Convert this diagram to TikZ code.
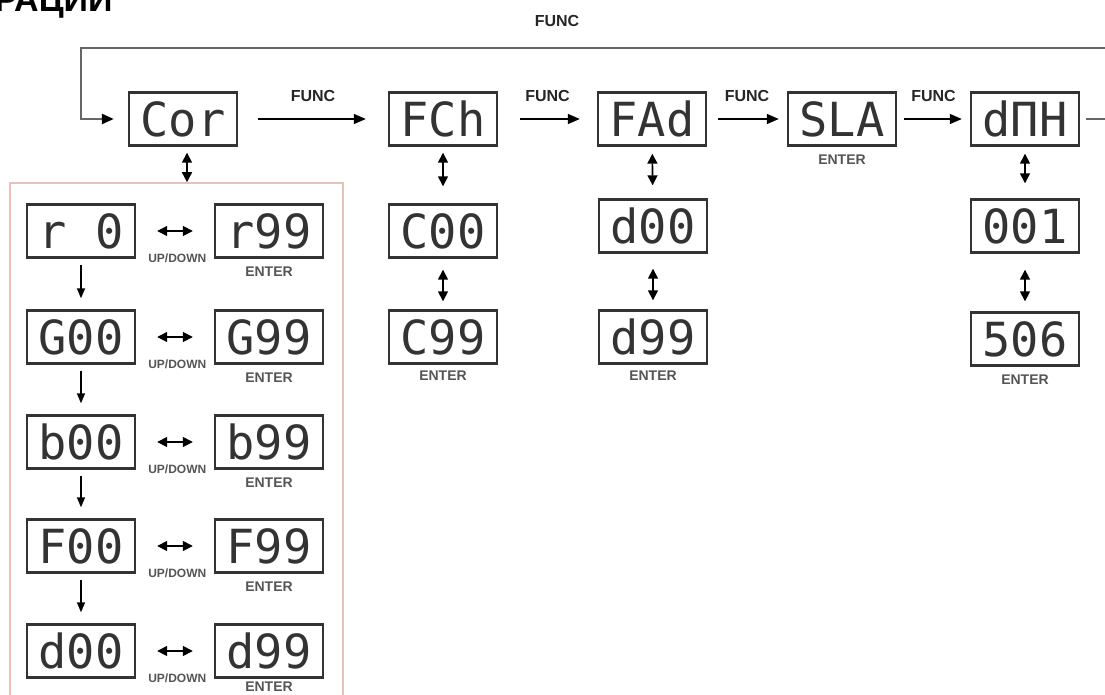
\documentclass[tikz,border=0pt]{standalone}
\usepackage{fontspec}
\usepackage{tikz}
\usetikzlibrary{positioning, arrows.meta}
\usepackage{xcolor}
\setmainfont{Liberation Sans}
\newfontfamily\segfont{DejaVu Sans Mono}
\definecolor{panelpink}{RGB}{236,192,184}
\definecolor{keygray}{RGB}{85,85,85}

\begin{document}
\begin{tikzpicture}[x=1pt, y=-1pt,
    disp/.style={draw=black!80, text=black!80, line width=2.4pt, minimum width=108pt, minimum height=53pt, inner sep=0pt, font=\segfont\fontsize{47}{47}\selectfont},
    func/.style={font=\bfseries\fontsize{16}{16}\selectfont, text=black!85},
    enter/.style={font=\bfseries\fontsize{14}{14}\selectfont, text=keygray},
    updn/.style={font=\bfseries\fontsize{12}{12}\selectfont, text=keygray},
    ttl/.style={font=\bfseries\fontsize{34}{34}\selectfont},
    panel/.style={draw=panelpink, line width=1.6pt, minimum width=333pt, minimum height=524pt},
    fwd/.style={-{Triangle[length=12pt, width=10pt]}, line width=1.6pt},
    nextrow/.style={-{Triangle[length=10pt, width=8pt]}, line width=1.4pt, shorten <=6pt, shorten >=11pt},
    bothway/.style={{Triangle[length=10pt, width=10pt]}-{Triangle[length=10pt, width=10pt]}, line width=1.6pt},
    loopline/.style={draw=black!60, line width=2.4pt, -{Triangle[length=12pt, width=10pt, color=black]}}]

        \useasboundingbox (0,0) rectangle (1105,695);

        % Title (cut off by the page edge)
        \node[ttl, anchor=base east] (ttl) at (116,12) {РАЦИИ};

        % Main menu row
        \node[disp] (Cor) at (183,119) {Cor};
        \node[disp] (FCh) at (443,119) {FCh};
        \node[disp] (FAd) at (652,119) {FAd};
        \node[disp] (SLA) at (842,119) {SLA};
        \node[disp] (dMH) at (1025,119) {dΠH};
        \node[enter, below=5pt of SLA] (eSLA) {ENTER};

        % Channel and fade columns
        \node[disp] (C00) at (443,231) {C00};
        \node[disp] (C99) at (443,337) {C99};
        \node[enter, below=3pt of C99] (eC99) {ENTER};
        \node[disp] (Fd00) at (653,226) {d00};
        \node[disp] (Fd99) at (653,337) {d99};
        \node[enter, below=3pt of Fd99] (eFd99) {ENTER};

        % Address column
        \node[disp] (a001) at (1025,226) {001};
        \node[disp] (a506) at (1025,339) {506};
        \node[enter, below=5pt of a506] (ea506) {ENTER};

        % Colour panel
        \node[panel] (grp) at (176.5,445) {};
        \node[disp] (r00) at (81,231) {r 0};
        \node[disp] (r99) at (269,231) {r99};
        \node[disp] (G00) at (81,337) {G00};
        \node[disp] (G99) at (269,337) {G99};
        \node[disp] (b00) at (81,442) {b00};
        \node[disp] (b99) at (269,442) {b99};
        \node[disp] (F00) at (81,546) {F00};
        \node[disp] (F99) at (269,546) {F99};
        \node[disp] (d00) at (81,651) {d00};
        \node[disp] (d99) at (269,651) {d99};

        \foreach \c in {r,G,b,F}
            \node[enter, below=5pt of \c99] (e\c) {ENTER};
        \node[enter, below=0pt of d99] (ed) {ENTER};
        \foreach \c in {r,G,b,F,d} {
            \node[updn, left=4pt of \c99.south west] (u\c) {UP/DOWN};
            \draw[bothway, shorten <=21pt, shorten >=21pt] (\c00) -- (\c99);
        }

        % Draw Row Arrows
        \draw[nextrow] (r00) -- (G00);
        \draw[nextrow] (G00) -- (b00);
        \draw[nextrow] (b00) -- (F00);
        \draw[nextrow] (F00) -- (d00);

        % Draw FUNC Arrows
        \draw[fwd, shorten <=20pt, shorten >=22pt] (Cor) -- node[func, above=13pt] (f1) {FUNC} (FCh);
        \draw[fwd, shorten <=22pt, shorten >=17pt] (FCh) -- node[func, above=13pt] (f2) {FUNC} (FAd);
        \draw[fwd, shorten <=11pt, shorten >=8pt] (FAd) -- node[func, above=13pt] (f3) {FUNC} (SLA);
        \draw[fwd, shorten <=7pt, shorten >=8pt] (SLA) -- node[func, above=13pt] (f4) {FUNC} (dMH);

        % Draw Up/Down Arrows
        \draw[bothway, shorten <=6pt] ([xshift=4pt]Cor.south) -- ([xshift=4pt]Cor.south |- grp.north);
        \draw[bothway, shorten <=6pt, shorten >=17pt] (FCh) -- (C00);
        \draw[bothway, shorten <=11pt, shorten >=8pt] (C00) -- (C99);
        \draw[bothway, shorten <=7pt, shorten >=13pt] (FAd) -- (Fd00);
        \draw[bothway, shorten <=15pt, shorten >=9pt] (Fd00) -- (Fd99);
        \draw[bothway, shorten <=7pt, shorten >=15pt] (dMH) -- (a001);
        \draw[bothway, shorten <=16pt, shorten >=10pt] (a001) -- (a506);

        % Return loop
        \coordinate (exitR) at (1120,119);
        \coordinate (topR) at (1120,48);
        \coordinate (topL) at (81,48);
        \draw[loopline, shorten <=6pt, shorten >=14pt] (dMH) -- (exitR) -- (topR) -- (topL) |- (Cor);
        \node[func] (ftop) at (557,21) {FUNC};

    \end{tikzpicture}
\end{document}
